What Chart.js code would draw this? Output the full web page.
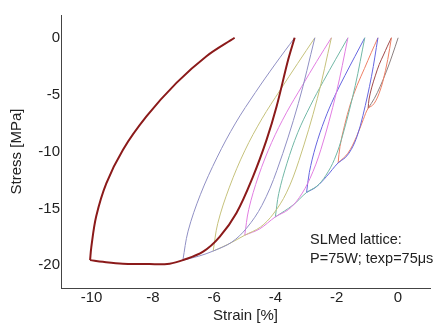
<!DOCTYPE html>
<html><head><meta charset="utf-8">
<script src="https://cdn.jsdelivr.net/npm/chart.js@4.4.0/dist/chart.umd.min.js"></script>
<style>html,body{margin:0;padding:0;background:#fff;}#wrap{width:445px;height:325px;position:relative;}</style>
</head><body><div id="wrap"><canvas id="c" width="445" height="325"></canvas></div>
<script>
// ---- data (strain %, stress MPa) ----
const xTicks = [-10, -8, -6, -4, -2, 0];
const yTicks = [-20, -15, -10, -5, 0];
const xLabel = 'Strain [%]';
const yLabel = 'Stress [MPa]';
const noteLines = ['SLMed lattice:', 'P=75W; texp=75\u03bcs'];

const initialLoad = [[0.01,0],[-0.19,-1.6],[-0.38,-3.0],[-0.58,-4.3],[-0.77,-5.35],[-0.97,-6.2]];
const unload1 = [[-0.97,-6.2],[-0.94,-5.39],[-0.85,-4.34],[-0.73,-3.29],[-0.61,-2.36],[-0.47,-1.52],[-0.34,-0.74],[-0.21,0]];
const reload2 = [[-0.21,0],[-0.33,-1.91],[-0.49,-3.86],[-0.61,-4.87],[-0.72,-5.54],[-0.83,-5.95],[-0.97,-6.2],[-1.13,-7.2],[-1.35,-8.7],[-1.63,-10.15],[-1.95,-11.0]];
const unload2 = [[-1.95,-11.0],[-1.89,-9.57],[-1.74,-7.7],[-1.55,-5.83],[-1.33,-4.18],[-1.09,-2.70],[-0.87,-1.32],[-0.65,0]];
const reload3 = [[-0.65,0],[-0.86,-3.39],[-1.14,-6.84],[-1.33,-8.65],[-1.52,-9.82],[-1.72,-10.55],[-1.95,-11.0],[-2.33,-12.2],[-2.66,-13.1],[-2.98,-13.6]];
const unload3 = [[-2.98,-13.6],[-2.89,-11.83],[-2.68,-9.52],[-2.39,-7.21],[-2.07,-5.17],[-1.73,-3.33],[-1.40,-1.63],[-1.08,0]];
const reload4 = [[-1.08,0],[-1.39,-4.19],[-1.79,-8.46],[-2.07,-10.69],[-2.36,-12.14],[-2.64,-13.04],[-2.98,-13.6],[-3.42,-14.7],[-4.0,-15.75]];
const unload4 = [[-4.0,-15.75],[-3.89,-13.70],[-3.62,-11.03],[-3.27,-8.35],[-2.86,-5.99],[-2.44,-3.86],[-2.03,-1.89],[-1.63,0]];
const reload5 = [[-1.63,0],[-2.01,-4.85],[-2.51,-9.80],[-2.87,-12.38],[-3.22,-14.06],[-3.57,-15.10],[-4.0,-15.75],[-4.51,-16.8],[-5.0,-17.36]];
const unload5 = [[-5.0,-17.36],[-4.87,-15.10],[-4.55,-12.15],[-4.12,-9.20],[-3.64,-6.60],[-3.13,-4.25],[-2.65,-2.08],[-2.17,0]];
const reload6 = [[-2.17,0],[-2.63,-5.35],[-3.23,-10.80],[-3.64,-13.64],[-4.07,-15.50],[-4.49,-16.65],[-5.0,-17.36],[-5.5,-18.1],[-6.03,-18.75]];
const unload6 = [[-6.03,-18.75],[-5.88,-16.31],[-5.50,-13.13],[-5.00,-9.94],[-4.44,-7.13],[-3.84,-4.59],[-3.27,-2.25],[-2.71,0]];
const reload7 = [[-2.71,0],[-3.25,-5.78],[-3.95,-11.66],[-4.44,-14.74],[-4.94,-16.74],[-5.43,-17.98],[-6.03,-18.75],[-6.5,-19.2],[-7.02,-19.55]];
const unload7 = [[-7.02,-19.55],[-6.85,-17.0],[-6.45,-13.8],[-5.9,-10.5],[-5.3,-7.5],[-4.65,-4.8],[-4.0,-2.3],[-3.37,0]];
const reload10 = [[-3.37,0],[-3.58,-1.92],[-3.96,-6.04],[-4.29,-9.0],[-4.73,-12.2],[-5.27,-15.4],[-5.82,-17.5],[-6.36,-18.8],[-7.02,-19.55],[-7.45,-19.86],[-8.1,-19.9],[-8.98,-19.86],[-9.63,-19.7],[-10.05,-19.55]];
const unload10 = [[-10.05,-19.55],[-10.01,-18.4],[-9.85,-15.7],[-9.52,-12.8],[-8.98,-9.86],[-8.21,-6.92],[-7.23,-3.97],[-6.25,-1.62],[-5.33,0]];

// ---- styles ----
const RED = '#8b1a1a', BLUEGREY = '#9090c4', OLIVE = '#c6c27c', PINK = '#e27ee2',
      TEAL = '#72b8a6', BLUE = '#6666e0', ORANGE = '#ee8066', BROWN = '#a04a4a', GREY = '#8c8080';
const curves = [
  [reload10, RED, 2], [unload10, RED, 2],
  [unload7, BLUEGREY, 1], [reload7, BLUEGREY, 1],
  [unload6, OLIVE, 1], [reload6, OLIVE, 1],
  [unload5, PINK, 1], [reload5, PINK, 1],
  [unload4, TEAL, 1], [reload4, TEAL, 1],
  [unload3, BLUE, 1], [reload3, BLUE, 1],
  [unload2, ORANGE, 1], [reload2, ORANGE, 1],
  [unload1, BROWN, 1], [initialLoad, GREY, 1]
];
const datasets = curves.map(([pts, col, w]) => ({
  data: pts.map(p => ({x: p[0], y: p[1]})),
  showLine: true, borderColor: col, borderWidth: w, pointRadius: 0,
  tension: 0.35, fill: false
}));

const FONT = '"Liberation Sans", Arial, sans-serif';
const notePlugin = {
  id: 'note',
  afterDraw(chart) {
    const ctx = chart.ctx;
    ctx.save();
    ctx.fillStyle = '#222';
    ctx.font = '14.5px ' + FONT;
    ctx.textAlign = 'left';
    ctx.textBaseline = 'alphabetic';
    ctx.fillText(noteLines[0], 310, 244);
    ctx.fillText(noteLines[1], 310, 263);
    ctx.restore();
  }
};

new Chart(document.getElementById('c'), {
  type: 'scatter',
  data: { datasets },
  options: {
    responsive: false, animation: false, devicePixelRatio: 1,
    layout: { padding: { top: 15, right: 15, left: 0, bottom: 0 } },
    plugins: { legend: { display: false }, tooltip: { enabled: false } },
    scales: {
      x: {
        type: 'linear', min: -11, max: 1.05,
        afterBuildTicks: s => { s.ticks = xTicks.map(v => ({ value: v })); },
        afterFit: s => { s.height = 37; },
        grid: { display: false, drawTicks: false },
        border: { display: true, color: '#444', width: 1 },
        ticks: { color: '#222', padding: 1, maxRotation: 0, autoSkip: false, font: { size: 15, family: FONT } },
        title: { display: true, text: xLabel, color: '#222', padding: { top: 0, bottom: 0 }, font: { size: 15, family: FONT } }
      },
      y: {
        type: 'linear', min: -22, max: 2,
        afterBuildTicks: s => { s.ticks = yTicks.map(v => ({ value: v })); },
        afterFit: s => { s.width = 61; },
        grid: { display: false, drawTicks: false },
        border: { display: true, color: '#444', width: 1 },
        ticks: { color: '#222', padding: 1, autoSkip: false, font: { size: 15, family: FONT } },
        title: { display: true, text: yLabel, color: '#222', padding: { top: 8, bottom: 0 }, font: { size: 15, family: FONT } }
      }
    }
  },
  plugins: [notePlugin]
});
</script></body></html>
